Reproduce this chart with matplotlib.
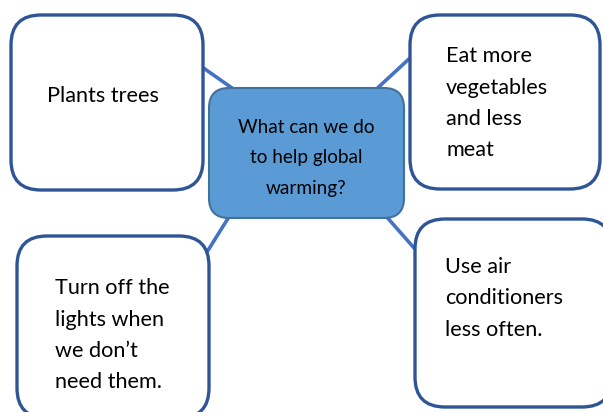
import matplotlib
matplotlib.use("Agg")
import matplotlib.pyplot as plt
from matplotlib.patches import FancyBboxPatch

# text content
center_question = ["What can we do", "to help global", "warming?"]
ideas = [
    ["Plants trees"],
    ["Eat more", "vegetables", "and less", "meat"],
    ["Turn off the", "lights when", "we don\u2019t", "need them."],
    ["Use air", "conditioners", "less often."],
]

# layout in pixel coordinates (x0, y0, x1, y1), y grows downward
idea_boxes = [(11, 15, 203, 190), (410, 15, 600, 189), (17, 236, 209, 418), (415, 219, 612, 407)]
text_anchor = [(103, 96, "center"), (446, 56, "left"), (55, 288, "left"), (445, 267, "left")]
connectors = [((202, 67), (242, 95)), ((410, 58), (370, 95)),
              ((232, 212), (207, 252)), ((385, 215), (415, 249))]
center_box = (209, 88, 404, 218)

W, H = 603, 412
fig = plt.figure(figsize=(W / 100, H / 100), dpi=100)
ax = fig.add_axes([0, 0, 1, 1])
ax.set_xlim(0, W)
ax.set_ylim(H, 0)
ax.axis("off")

FONT = "Lato"
EDGE = "#2F5597"
LINE = "#4472C4"

for (p0, p1) in connectors:
    ax.plot([p0[0], p1[0]], [p0[1], p1[1]], color=LINE, lw=2.6, solid_capstyle="butt", zorder=1)


def rbox(box, face, edge, r, lw):
    x0, y0, x1, y1 = box
    p = FancyBboxPatch((x0 + r, y0 + r), (x1 - x0) - 2 * r, (y1 - y0) - 2 * r,
                       boxstyle=f"round,pad={r},rounding_size={r}",
                       facecolor=face, edgecolor=edge, lw=lw, zorder=2)
    ax.add_patch(p)


for box in idea_boxes:
    rbox(box, "white", EDGE, 30, 2.4)

rbox(center_box, "#5B9BD5", "#41719C", 20, 1.5)

cx = (center_box[0] + center_box[2]) / 2
for i, line in enumerate(center_question):
    ax.text(cx, 127 + i * 30.5, line, ha="center", va="center", fontsize=13.7,
            family=FONT, color="black", zorder=3)

step = 31.5
for lines, (tx, ty, ha) in zip(ideas, text_anchor):
    for i, line in enumerate(lines):
        ax.text(tx, ty + i * step, line, ha=ha, va="center", fontsize=15.6,
                family=FONT, color="black", zorder=3)

fig.savefig("out.png", dpi=100)
